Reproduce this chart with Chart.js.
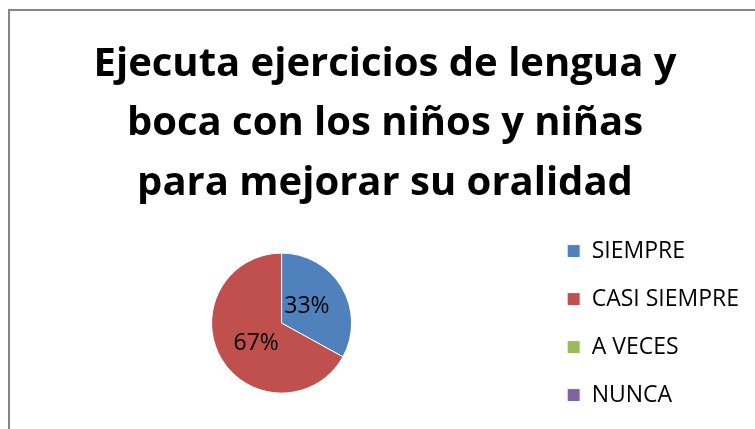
<!DOCTYPE html>
<html>
<head>
<meta charset="utf-8">
<script src="https://cdn.jsdelivr.net/npm/chart.js@4.4.1/dist/chart.umd.min.js"></script>
<style>
    html, body { margin: 0; padding: 0; background: #fff; overflow: hidden; width: 755px; height: 429px; }
    .frame { position: absolute; left: 8px; top: 9px; width: 756px; height: 430px; border: 2px solid #868686; background: #fff; }
    .frame canvas { display: block; }
</style>
</head>
<body>
<div class="frame"><canvas id="pieChart" width="756" height="430"></canvas></div>
<script>
const titleLines = ['Ejecuta ejercicios de lengua y', 'boca con los niños y niñas', 'para mejorar su oralidad'];
const categories = ['SIEMPRE', 'CASI SIEMPRE', 'A VECES', 'NUNCA'];
const values = [33, 67, 0, 0];
const sliceColors = ['#4F81BD', '#C0504D', '#9BBB59', '#8064A2'];

const fontFamily = '"Open Sans", "Noto Sans", sans-serif';

// percentage text inside each non-empty slice
const percentLabels = {
    id: 'percentLabels',
    afterDatasetsDraw(chart) {
        const { ctx } = chart;
        const meta = chart.getDatasetMeta(0);
        const total = values.reduce((sum, v) => sum + v, 0);

        ctx.save();
        ctx.font = `23px ${fontFamily}`;
        ctx.fillStyle = '#000';
        ctx.textAlign = 'center';
        ctx.textBaseline = 'middle';

        meta.data.forEach((arc, i) => {
            if (!values[i]) {
                return;
            }
            const { x, y, startAngle, endAngle, outerRadius } = arc.getProps(['x', 'y', 'startAngle', 'endAngle', 'outerRadius'], true);
            const mid = (startAngle + endAngle) / 2 - 0.1;
            const r = outerRadius * 0.45;
            const pct = Math.round((values[i] / total) * 100);
            ctx.fillText(`${pct}%`, x + Math.cos(mid) * r, y + Math.sin(mid) * r + 2);
        });
        ctx.restore();
    },
};

new Chart(document.getElementById('pieChart'), {
    type: 'pie',
    data: {
        labels: categories,
        datasets: [{
            data: values,
            backgroundColor: sliceColors,
            borderColor: '#fff',
            borderWidth: 1,
        }],
    },
    options: {
        responsive: false,
        animation: false,
        radius: 70,
        layout: {
            padding: { left: 11, right: 17, top: 0, bottom: 8 },
        },
        plugins: {
            title: {
                display: true,
                text: titleLines,
                color: '#000',
                font: { family: fontFamily, size: 40, weight: 'bold', lineHeight: 1.485 },
                padding: { top: 24, bottom: 0 },
            },
            legend: {
                position: 'right',
                fullSize: false,
                align: 'center',
                labels: {
                    boxWidth: 13,
                    boxHeight: 13,
                    padding: 25,
                    color: '#000',
                    font: { family: fontFamily, size: 23 },
                },
            },
            tooltip: { enabled: false },
        },
    },
    plugins: [percentLabels],
});
</script>
</body>
</html>
